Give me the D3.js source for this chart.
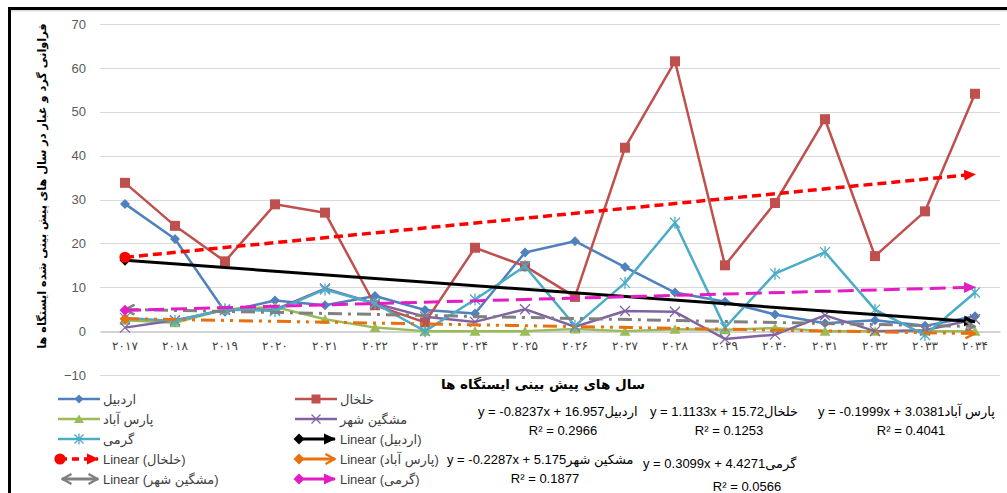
<!DOCTYPE html>
<html><head><meta charset="utf-8">
<script src="https://cdn.jsdelivr.net/npm/d3@7"></script>
<style>
body{margin:0;background:#fff;}
text{font-family:"Liberation Sans",Arial,"DejaVu Sans",sans-serif;}
</style>
</head><body>
<svg id="chart" width="1007" height="493"></svg>
<script>
// ---------- DATA ----------
const years = [2017,2018,2019,2020,2021,2022,2023,2024,2025,2026,2027,2028,2029,2030,2031,2032,2033,2034];
const yearLabels = ["۲۰۱۷","۲۰۱۸","۲۰۱۹","۲۰۲۰","۲۰۲۱","۲۰۲۲","۲۰۲۳","۲۰۲۴","۲۰۲۵","۲۰۲۶","۲۰۲۷","۲۰۲۸","۲۰۲۹","۲۰۳۰","۲۰۳۱","۲۰۳۲","۲۰۳۳","۲۰۳۴"];
const stationNames = ["اردبیل","خلخال","پارس آباد","مشگین شهر","گرمی"];
const ardabil  = [29, 21, 4.4, 7, 5.9, 8, 4.8, 4, 17.9, 20.5, 14.6, 8.8, 6.7, 3.8, 1.8, 2.5, 1.2, 3.4];
const khalkhal = [33.8, 24, 15.9, 28.9, 27, 5.9, 2, 19, 14.8, 7.8, 41.8, 61.5, 15, 29.2, 48.3, 17.1, 27.3, 54.1];
const parsAbad = [2.5, 1.9, 5, 5.5, 2.7, 0.8, 0, 0, 0, 0.5, 0, 0.4, 0.3, 0.7, 0, 0, 0, 0];
const meshgin  = [0.8, 2.5, 4.8, 4.9, 9.7, 6.3, 3.3, 2.1, 5, 1, 4.6, 4.4, -1.8, -0.8, 3.6, 0, 0.2, 2.7];
const germi    = [3, 2.3, 5, 4.6, 9.5, 6.3, 0, 7.2, 14.8, 1.2, 11, 24.7, 0.8, 13.1, 18, 4.9, -0.9, 8.8];
const trendSlopes     = [-0.8237, 1.1133, -0.1999, -0.2287, 0.3099];
const trendIntercepts = [16.957, 15.72, 3.0381, 5.175, 4.4271];
const equationTexts = ["y = -0.8237x + 16.957اردبیل","y = 1.1133x + 15.72خلخال","y = -0.1999x + 3.0381پارس آباد","y = -0.2287x + 5.175مشکین شهر","y = 0.3099x + 4.4271گرمی"];
const r2Texts = ["R² = 0.2966","R² = 0.1253","R² = 0.4041","R² = 0.1877","R² = 0.0566"];
const yTicks = [-10,0,10,20,30,40,50,60,70];
const yTitle = "فراوانی گرد و غبار در سال های پیش بینی شده ایستگاه ها";
const xTitle = "سال های پیش بینی ایستگاه ها";

// ---------- STYLE ----------
const seriesData = [ardabil, khalkhal, parsAbad, meshgin, germi];
const seriesColors = ["#4F81BD","#C0504D","#9BBB59","#8064A2","#4BACC6"];
const seriesMarkers = ["diamond","square","triangle","x","asterisk"];
const trendStyles = [
  {color:"#000000", dash:null, width:3, start:"diamond", end:"tri"},
  {color:"#FF0000", dash:"9,5", width:3.5, start:"circle", end:"tri"},
  {color:"#E8700E", dash:"14,6,3,6,3,6", width:3, start:"diamond", end:"open"},
  {color:"#808080", dash:"14,6,3,6", width:3, start:"open", end:"open"},
  {color:"#E41CC6", dash:"16,7", width:3, start:"diamond", end:"tri"}
];

const svg = d3.select("#chart");
const W = 1007, H = 493;
svg.append("rect").attr("width",W).attr("height",H).attr("fill","#fff");

const x = d3.scaleBand().domain(years).range([100,1000]).paddingInner(0).paddingOuter(0);
const xc = d => x(d) + x.bandwidth()/2;
const y = d3.scaleLinear().domain([-10,70]).range([375,24]);

// defs: markers for trend lines
const defs = svg.append("defs");
trendStyles.forEach((s,i)=>{
  const me = defs.append("marker").attr("id","te"+i).attr("markerUnits","userSpaceOnUse")
    .attr("viewBox","0 0 12 12").attr("markerWidth",12).attr("markerHeight",12)
    .attr("refX",11).attr("refY",6).attr("orient","auto");
  if (s.end==="tri") me.append("path").attr("d","M0,0.5 L12,6 L0,11.5 Z").attr("fill",s.color);
  else me.append("path").attr("d","M1.5,1 L10.5,6 L1.5,11").attr("fill","none").attr("stroke",s.color).attr("stroke-width",2.4);
  const ms = defs.append("marker").attr("id","ts"+i).attr("markerUnits","userSpaceOnUse")
    .attr("viewBox","0 0 12 12").attr("markerWidth",12).attr("markerHeight",12)
    .attr("refY",6);
  if (s.start==="diamond") { ms.attr("refX",6).attr("orient","0"); ms.append("path").attr("d","M6,0.5 L11.5,6 L6,11.5 L0.5,6 Z").attr("fill",s.color); }
  else if (s.start==="circle") { ms.attr("refX",6).attr("orient","0"); ms.append("circle").attr("cx",6).attr("cy",6).attr("r",5.6).attr("fill",s.color); }
  else { ms.attr("refX",11).attr("orient","auto-start-reverse"); ms.append("path").attr("d","M1.5,1 L10.5,6 L1.5,11").attr("fill","none").attr("stroke",s.color).attr("stroke-width",2.4); }
});

// frame
svg.append("rect").attr("x",9.5).attr("y",8.5).attr("width",1200).attr("height",700)
  .attr("fill","none").attr("stroke","#000").attr("stroke-width",3);
svg.append("line").attr("x1",11).attr("x2",W).attr("y1",10.8).attr("y2",10.8).attr("stroke","#bdbdbd").attr("stroke-width",0.8);

// gridlines
svg.append("g").selectAll("line").data(yTicks.filter(t=>t!==0)).join("line")
  .attr("x1",100).attr("x2",1000).attr("y1",d=>Math.round(y(d))+0.5).attr("y2",d=>Math.round(y(d))+0.5)
  .attr("stroke","#D9D9D9").attr("stroke-width",1);

// y axis labels
const yAxis = d3.axisLeft(y).tickValues(yTicks).tickSize(0).tickPadding(0).tickFormat(d3.format("d"));
const gy = svg.append("g").attr("transform","translate(86,0)").call(yAxis);
gy.select(".domain").remove();
gy.selectAll("text").attr("fill","#595959").style("font-size","13px").style("font-family","'Liberation Sans',Arial");

// x axis at 0
const xAxis = d3.axisBottom(x).tickSize(0).tickPadding(10).tickFormat((d,i)=>yearLabels[i]);
const gx = svg.append("g").attr("transform",`translate(0,${Math.round(y(0))+0.5})`).call(xAxis);
gx.select(".domain").attr("stroke","#A6A6A6").attr("stroke-width",1);
gx.selectAll("text").attr("fill","#404040").style("font-size","12px").style("font-family","'DejaVu Sans'")
  .style("letter-spacing","2.5px").attr("direction","ltr");

// marker drawing
function drawMarker(g, type, cx, cy, color, size){
  const s = size||5;
  if (type==="diamond") g.append("path").attr("d",`M${cx},${cy-s} L${cx+s},${cy} L${cx},${cy+s} L${cx-s},${cy} Z`).attr("fill",color);
  else if (type==="square") g.append("rect").attr("x",cx-s).attr("y",cy-s).attr("width",2*s).attr("height",2*s).attr("fill",color);
  else if (type==="triangle") g.append("path").attr("d",`M${cx},${cy-s} L${cx+s*1.1},${cy+s*0.9} L${cx-s*1.1},${cy+s*0.9} Z`).attr("fill",color);
  else if (type==="x") g.append("path").attr("d",`M${cx-s},${cy-s} L${cx+s},${cy+s} M${cx-s},${cy+s} L${cx+s},${cy-s}`).attr("stroke",color).attr("stroke-width",1.3).attr("fill","none");
  else if (type==="asterisk") g.append("path").attr("d",`M${cx-s},${cy-s} L${cx+s},${cy+s} M${cx-s},${cy+s} L${cx+s},${cy-s} M${cx},${cy-s*1.2} L${cx},${cy+s*1.2}`).attr("stroke",color).attr("stroke-width",1.3).attr("fill","none");
}

// series
const line = d3.line().x((d,i)=>xc(years[i])).y(d=>y(d));
seriesData.forEach((arr,k)=>{
  const g = svg.append("g");
  g.append("path").datum(arr).attr("d",line).attr("fill","none")
    .attr("stroke",seriesColors[k]).attr("stroke-width",2.5).attr("stroke-linejoin","round");
  arr.forEach((v,i)=>drawMarker(g, seriesMarkers[k], xc(years[i]), y(v), seriesColors[k], 5));
});

// trendlines
trendStyles.forEach((s,k)=>{
  const x0 = 1, x1 = years.length;
  const pts = [[xc(years[0]), y(trendSlopes[k]*x0+trendIntercepts[k])],[xc(years[years.length-1]), y(trendSlopes[k]*x1+trendIntercepts[k])]];
  svg.append("path").attr("d",d3.line()(pts)).attr("fill","none").attr("stroke",s.color)
    .attr("stroke-width",s.width).attr("stroke-dasharray",s.dash)
    .attr("marker-start","url(#ts"+k+")").attr("marker-end","url(#te"+k+")");
});

// axis titles
svg.append("text").attr("transform","translate(46,186) rotate(-90)").attr("text-anchor","middle")
  .attr("direction","rtl").style("font-family","'DejaVu Sans'").style("font-weight","bold").style("font-size","11.3px").attr("fill","#000").text(yTitle);
svg.append("text").attr("x",543).attr("y",389).attr("text-anchor","middle").attr("direction","rtl")
  .style("font-family","'DejaVu Sans'").style("font-weight","bold").style("font-size","13.5px").attr("fill","#000").text(xTitle);

// legend
const legendItems = [
  {label:stationNames[0], kind:"s", k:0},{label:stationNames[1], kind:"s", k:1},
  {label:stationNames[2], kind:"s", k:2},{label:stationNames[3], kind:"s", k:3},
  {label:stationNames[4], kind:"s", k:4},{label:"Linear ("+stationNames[0]+")", kind:"t", k:0},
  {label:"Linear ("+stationNames[1]+")", kind:"t", k:1},{label:"Linear ("+stationNames[2]+")", kind:"t", k:2},
  {label:"Linear ("+stationNames[3]+")", kind:"t", k:3},{label:"Linear ("+stationNames[4]+")", kind:"t", k:4}
];
const rowsY = [399,419,439,459,479];
const colX = [58,295];
const lg = svg.append("g");
legendItems.forEach((it,i)=>{
  const r = Math.floor(i/2), c = i%2;
  const lx = colX[c], ly = rowsY[r];
  if (it.kind==="s"){
    lg.append("line").attr("x1",lx).attr("x2",lx+42).attr("y1",ly).attr("y2",ly).attr("stroke",seriesColors[it.k]).attr("stroke-width",2.5);
    drawMarker(lg, seriesMarkers[it.k], lx+21, ly, seriesColors[it.k], 4.5);
  } else {
    const s = trendStyles[it.k];
    lg.append("line").attr("x1",lx+(s.start==="circle"?2:4)).attr("x2",lx+40).attr("y1",ly).attr("y2",ly).attr("stroke",s.color)
      .attr("stroke-width",s.width).attr("stroke-dasharray",it.k===1?"7,5":null)
      .attr("marker-start","url(#ts"+it.k+")").attr("marker-end","url(#te"+it.k+")");
  }
  lg.append("text").attr("x",lx+45).attr("y",ly+4.5).attr("direction","ltr").attr("fill","#404040")
    .style("font-size","13px").text(it.label);
});

// equations
const eqPos = [[478,416],[650,416],[818,416],[447,464],[643,468]];
const r2Pos = [[563,435],[729,435],[911,435],[545,483],[747,491]];
equationTexts.forEach((t,i)=>{
  svg.append("text").attr("x",eqPos[i][0]).attr("y",eqPos[i][1]).attr("direction","ltr").attr("fill","#000")
    .style("font-size","13px").text(t);
  svg.append("text").attr("x",r2Pos[i][0]).attr("y",r2Pos[i][1]).attr("text-anchor","middle").attr("fill","#000")
    .style("font-size","13px").text(r2Texts[i]);
});
</script>
</body></html>
